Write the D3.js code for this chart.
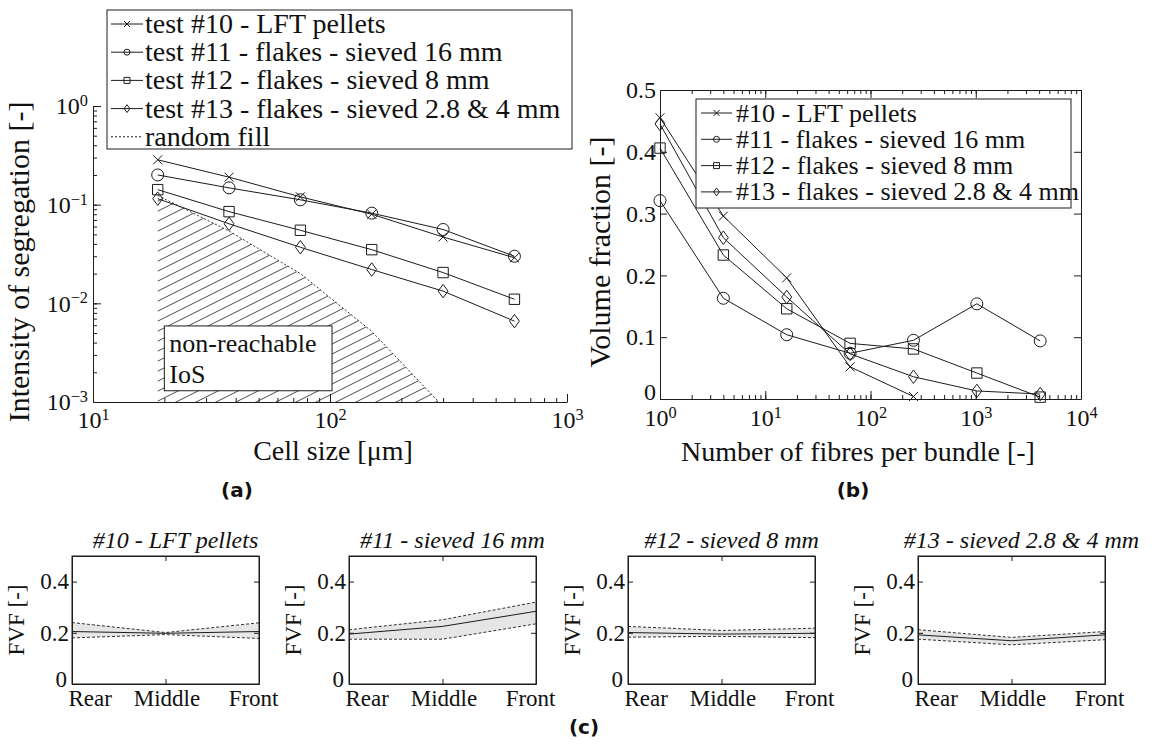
<!DOCTYPE html>
<html>
<head>
<meta charset="utf-8">
<script src="https://cdn.jsdelivr.net/npm/d3@7"></script>
<style>
  body { margin: 0; background: #fff; }
  svg text { font-family: "Liberation Serif", "DejaVu Serif", "Noto Serif", "Times New Roman", serif; fill: #111; }
  svg text.tag { font-family: "DejaVu Sans", sans-serif; font-weight: bold; font-size: 20px; }
</style>
</head>
<body>
<svg id="fig" width="1170" height="745"></svg>
<script>
// ---- data: panel (a) intensity of segregation vs cell size
const cellSize = [18.75, 37.5, 75, 150, 300, 600];
const iosT10 = [0.285, 0.19, 0.12, 0.08, 0.047, 0.029];
const iosT11 = [0.20, 0.148, 0.112, 0.082, 0.056, 0.030];
const iosT12 = [0.142, 0.085, 0.055, 0.035, 0.0205, 0.011];
const iosT13 = [0.115, 0.064, 0.037, 0.022, 0.0133, 0.0066];
const randomFill = [0.124, 0.054, 0.02, 0.0052, 0.0009];
const legendA = ["test #10 - LFT pellets", "test #11 - flakes - sieved 16 mm",
                 "test #12 - flakes - sieved 8 mm", "test #13 - flakes - sieved 2.8 & 4 mm", "random fill"];

// ---- data: panel (b) volume fraction vs fibres per bundle
const fibres = [1, 4, 16, 64, 256, 1024, 4096];
const vf10 = [0.455, 0.296, 0.196, 0.052, 0.004];
const vf11 = [0.321, 0.163, 0.104, 0.074, 0.095, 0.154, 0.094];
const vf12 = [0.406, 0.233, 0.146, 0.090, 0.081, 0.042, 0.003];
const vf13 = [0.445, 0.261, 0.165, 0.073, 0.036, 0.013, 0.008];
const legendB = ["#10 - LFT pellets", "#11 - flakes - sieved 16 mm",
                 "#12 - flakes - sieved 8 mm", "#13 - flakes - sieved 2.8 & 4 mm"];

// ---- data: panel (c) FVF along the part
const positions = ["Rear", "Middle", "Front"];
const titlesC = ["#10 - LFT pellets", "#11 - sieved 16 mm", "#12 - sieved 8 mm", "#13 - sieved 2.8 & 4 mm"];
const fvfMean = [[0.205, 0.198, 0.205], [0.195, 0.225, 0.284], [0.201, 0.195, 0.198], [0.192, 0.169, 0.192]];
const fvfUpper = [[0.24, 0.201, 0.239], [0.212, 0.251, 0.32], [0.225, 0.209, 0.218], [0.212, 0.182, 0.205]];
const fvfLower = [[0.18, 0.193, 0.178], [0.175, 0.175, 0.235], [0.183, 0.186, 0.181], [0.175, 0.153, 0.173]];

const ink = "#1c1c1c";
const svg = d3.select("#fig");
const defs = svg.append("defs");

// marker shapes, centred on 0,0
function markerPath(type, r) {
  if (type === "x") return `M${-r},${-r}L${r},${r}M${-r},${r}L${r},${-r}`;
  if (type === "o") return d3.arc()({innerRadius: 0, outerRadius: r, startAngle: 0, endAngle: 2 * Math.PI});
  if (type === "s") return `M${-r},${-r}H${r}V${r}H${-r}Z`;
  return `M0,${-1.3 * r}L${0.95 * r},0L0,${1.3 * r}L${-0.95 * r},0Z`;
}

function logLabels(sel) {
  sel.each(function(d) {
    const t = d3.select(this).text(null);
    t.append("tspan").text("10");
    t.append("tspan").attr("dy", "-0.5em").attr("font-size", "0.68em")
      .text(String(Math.round(Math.log10(d))).replace("-", "\u2212"));
  });
}

function styleAxis(g, size) {
  g.attr("font-family", null).attr("font-size", size);
  g.selectAll("line, path").attr("stroke", ink);
}

function series(g, xs, ys, x, y, type, r) {
  const pts = ys.map((v, i) => [x(xs[i]), y(v)]);
  g.append("path").datum(pts).attr("fill", "none").attr("stroke", ink).attr("stroke-width", 1)
    .attr("d", d3.line());
  g.selectAll(null).data(pts).enter().append("path")
    .attr("transform", d => `translate(${d[0]},${d[1]})`)
    .attr("d", markerPath(type, r))
    .attr("fill", "none").attr("stroke", ink).attr("stroke-width", 1);
}

// =================== panel (a) ===================
const xA = d3.scaleLog().domain([10, 1000]).range([93, 567]);
const yA = d3.scaleLog().domain([1e-3, 1]).range([402, 106]);
const gA = svg.append("g");

defs.append("clipPath").attr("id", "clipA").append("rect")
  .attr("x", 93).attr("y", 106).attr("width", 474).attr("height", 296);
const hatch = defs.append("pattern").attr("id", "hatch").attr("patternUnits", "userSpaceOnUse")
  .attr("width", 20).attr("height", 10);
hatch.append("path").attr("d", "M0,10L20,0M-2,1L2,-1M18,11L22,9")
  .attr("stroke", ink).attr("stroke-width", 0.8);

const rf = randomFill.map((v, i) => ({x: cellSize[i], y: v}));
gA.append("path").datum(rf).attr("clip-path", "url(#clipA)").attr("fill", "url(#hatch)")
  .attr("d", d3.area().x(d => xA(d.x)).y0(yA(1e-3)).y1(d => yA(d.y)));
gA.append("path").datum(rf).attr("clip-path", "url(#clipA)").attr("fill", "none")
  .attr("stroke", ink).attr("stroke-width", 0.9).attr("stroke-dasharray", "2,2")
  .attr("d", d3.line().x(d => xA(d.x)).y(d => yA(d.y)));

// non-reachable annotation
gA.append("rect").attr("x", xA(20)).attr("y", yA(0.0059))
  .attr("width", xA(102) - xA(20)).attr("height", yA(0.0013) - yA(0.0059))
  .attr("fill", "#fff").attr("stroke", ink);
gA.append("text").attr("x", xA(20) + 5).attr("y", 352).attr("font-size", 26).text("non-reachable");
gA.append("text").attr("x", xA(20) + 5).attr("y", 383).attr("font-size", 26).text("IoS");

// axes (ticks inside, no box)
gA.append("g").attr("transform", "translate(0,402)")
  .call(d3.axisBottom(xA).tickSize(-4).tickSizeOuter(0).tickFormat(""))
  .call(g => g.select(".domain").remove()).call(styleAxis, 24);
gA.append("g").attr("transform", "translate(0,402)")
  .call(d3.axisBottom(xA).tickValues([10, 100, 1000]).tickSize(-8).tickSizeOuter(0).tickPadding(9))
  .call(styleAxis, 24)
  .call(g => g.selectAll("text").call(logLabels));
gA.append("g").attr("transform", "translate(93,0)")
  .call(d3.axisLeft(yA).tickSize(-4).tickSizeOuter(0).tickFormat(""))
  .call(g => g.select(".domain").remove()).call(styleAxis, 24);
gA.append("g").attr("transform", "translate(93,0)")
  .call(d3.axisLeft(yA).tickValues([1e-3, 1e-2, 1e-1, 1]).tickSize(-8).tickSizeOuter(0).tickPadding(5))
  .call(styleAxis, 24)
  .call(g => g.selectAll("text").call(logLabels));

const typesA = ["x", "o", "s", "d"];
const sizesA = [4.5, 6, 5.2, 5.2];
[iosT10, iosT11, iosT12, iosT13].forEach((s, i) =>
  series(gA, cellSize, s, xA, yA, typesA[i], sizesA[i]));

// legend (a)
const legA = gA.append("g");
legA.append("rect").attr("x", 107).attr("y", 10).attr("width", 465).attr("height", 139)
  .attr("fill", "#fff").attr("stroke", ink);
legendA.forEach((name, i) => {
  const yy = 24 + i * 28.2;
  const row = legA.append("g");
  row.append("line").attr("x1", 111).attr("x2", 143).attr("y1", yy).attr("y2", yy)
    .attr("stroke", ink).attr("stroke-dasharray", i === 4 ? "2,2" : null);
  if (i < 4) row.append("path").attr("transform", `translate(127,${yy})`)
    .attr("d", markerPath(typesA[i], 3)).attr("fill", "none").attr("stroke", ink);
  row.append("text").attr("x", 145).attr("y", yy + 9).attr("font-size", 28).text(name);
});

gA.append("text").attr("transform", "translate(29,262) rotate(-90)").attr("text-anchor", "middle")
  .attr("font-size", 30).text("Intensity of segregation [-]");
gA.append("text").attr("x", 333).attr("y", 460).attr("text-anchor", "middle")
  .attr("font-size", 28).text("Cell size [\u03bcm]");
svg.append("text").attr("class", "tag").attr("x", 237).attr("y", 497).attr("text-anchor", "middle").text("(a)");

// =================== panel (b) ===================
const xB = d3.scaleLog().domain([1, 1e4]).range([660, 1081]);
const yB = d3.scaleLinear().domain([0, 0.5]).range([399, 90]);
const gB = svg.append("g");

gB.append("g").attr("transform", "translate(0,399)")
  .call(d3.axisBottom(xB).tickSize(-4).tickSizeOuter(0).tickFormat(""))
  .call(g => g.select(".domain").remove()).call(styleAxis, 24);
gB.append("g").attr("transform", "translate(0,90)")
  .call(d3.axisTop(xB).tickSize(-4).tickSizeOuter(0).tickFormat(""))
  .call(g => g.select(".domain").remove()).call(styleAxis, 24);
gB.append("g").attr("transform", "translate(0,90)")
  .call(d3.axisTop(xB).ticks(4).tickSize(-8).tickSizeOuter(0).tickFormat(""))
  .call(styleAxis, 24);
gB.append("g").attr("transform", "translate(0,399)")
  .call(d3.axisBottom(xB).tickValues([1, 10, 100, 1000, 10000]).tickSize(-8).tickSizeOuter(0).tickPadding(10))
  .call(styleAxis, 24)
  .call(g => g.selectAll("text").call(logLabels));
gB.append("g").attr("transform", "translate(660,0)")
  .call(d3.axisLeft(yB).ticks(5).tickSize(-7).tickSizeOuter(0).tickPadding(4)
    .tickFormat(d => d === 0 ? "0" : d3.format(".1f")(d)))
  .call(styleAxis, 24)
  .call(g => g.selectAll("text").filter(d => d === 0).attr("dy", "0em"));
gB.append("g").attr("transform", "translate(1081,0)")
  .call(d3.axisRight(yB).ticks(5).tickSize(-7).tickSizeOuter(0).tickFormat(""))
  .call(styleAxis, 24);

const sizesB = [4.5, 6, 5.2, 5.2];
[vf10, vf11, vf12, vf13].forEach((s, i) =>
  series(gB, fibres, s, xB, yB, typesA[i], sizesB[i]));

const legB = gB.append("g");
legB.append("rect").attr("x", 696).attr("y", 99).attr("width", 375).attr("height", 109)
  .attr("fill", "#fff").attr("stroke", ink);
legendB.forEach((name, i) => {
  const yy = 113 + i * 26.3;
  legB.append("line").attr("x1", 701).attr("x2", 732).attr("y1", yy).attr("y2", yy).attr("stroke", ink);
  legB.append("path").attr("transform", `translate(716.5,${yy})`)
    .attr("d", markerPath(typesA[i], 3)).attr("fill", "none").attr("stroke", ink);
  legB.append("text").attr("x", 736).attr("y", yy + 8.5).attr("font-size", 26).text(name);
});

gB.append("text").attr("transform", "translate(610,252) rotate(-90)").attr("text-anchor", "middle")
  .attr("font-size", 30).text("Volume fraction [-]");
gB.append("text").attr("x", 858).attr("y", 461).attr("text-anchor", "middle")
  .attr("font-size", 28).text("Number of fibres per bundle [-]");
svg.append("text").attr("class", "tag").attr("x", 853).attr("y", 497).attr("text-anchor", "middle").text("(b)");

// =================== panel (c) ===================
const leftsC = [72, 349, 628, 918];
const wC = 187;
const yC = d3.scaleLinear().domain([0, 0.5]).range([684, 556]);

leftsC.forEach((x0, k) => {
  const xC = d3.scalePoint().domain(positions).range([x0, x0 + wC]);
  const g = svg.append("g");
  const idx = positions.map((p, i) => i);

  g.append("path").datum(idx).attr("fill", "#e6e6e6")
    .attr("d", d3.area().x(i => xC(positions[i])).y0(i => yC(fvfLower[k][i])).y1(i => yC(fvfUpper[k][i])));
  [fvfUpper[k], fvfLower[k]].forEach(b =>
    g.append("path").datum(idx).attr("fill", "none").attr("stroke", ink).attr("stroke-width", 0.9)
      .attr("stroke-dasharray", "3,2")
      .attr("d", d3.line().x(i => xC(positions[i])).y(i => yC(b[i]))));
  g.append("path").datum(idx).attr("fill", "none").attr("stroke", ink).attr("stroke-width", 1)
    .attr("d", d3.line().x(i => xC(positions[i])).y(i => yC(fvfMean[k][i])));

  g.append("rect").attr("x", x0).attr("y", 556).attr("width", wC).attr("height", 128)
    .attr("fill", "none").attr("stroke", ink);
  g.append("g").attr("transform", `translate(${x0},0)`)
    .call(d3.axisLeft(yC).tickValues([0, 0.2, 0.4]).tickSize(-5).tickSizeOuter(0).tickPadding(3)
      .tickFormat(d => d === 0 ? "0" : d3.format(".1f")(d)))
    .call(styleAxis, 23)
    .call(a => a.selectAll("text").filter(d => d === 0).attr("dy", "0.1em").attr("dx", -2));
  g.append("g").attr("transform", `translate(${x0 + wC},0)`)
    .call(d3.axisRight(yC).tickValues([0.2, 0.4]).tickSize(-5).tickSizeOuter(0).tickFormat(""))
    .call(styleAxis, 23);
  g.append("g").attr("transform", "translate(0,684)")
    .call(d3.axisBottom(xC).tickSize(-5).tickSizeOuter(0).tickPadding(6))
    .call(styleAxis, 23)
    .call(a => a.selectAll("text")
      .attr("text-anchor", (d, i) => ["start", "middle", "end"][i])
      .attr("dx", (d, i) => [-4, 1, 19][i]));
  g.append("g").attr("transform", "translate(0,556)")
    .call(d3.axisTop(xC).tickValues(["Middle"]).tickSize(-5).tickSizeOuter(0).tickFormat(""))
    .call(styleAxis, 23);

  g.append("text").attr("x", x0 + wC / 2 + 10).attr("y", 548).attr("text-anchor", "middle")
    .attr("font-size", 24).attr("font-style", "italic").text(titlesC[k]);
  g.append("text").attr("transform", `translate(${x0 - 48},620) rotate(-90)`).attr("text-anchor", "middle")
    .attr("font-size", 23).text("FVF [-]");
});
svg.append("text").attr("class", "tag").attr("x", 584).attr("y", 734).attr("text-anchor", "middle").text("(c)");
</script>
</body>
</html>
